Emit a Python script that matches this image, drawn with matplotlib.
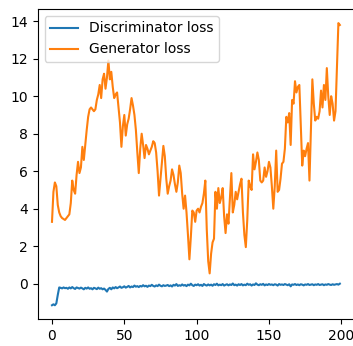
import matplotlib
matplotlib.use('Agg')
import matplotlib.pyplot as plt

# losses per epoch
disc_loss = [
    -1.15, -1.1, -1.15, -1.05, -0.6, -0.2, -0.22, -0.25, -0.2, -0.24,
    -0.22, -0.27, -0.2, -0.25, -0.18, -0.24, -0.28, -0.2, -0.23, -0.26,
    -0.21, -0.25, -0.3, -0.22, -0.26, -0.2, -0.27, -0.24, -0.3, -0.22,
    -0.25, -0.29, -0.21, -0.27, -0.24, -0.3, -0.26, -0.33, -0.42, -0.28,
    -0.22, -0.3, -0.2, -0.25, -0.18, -0.24, -0.2, -0.15, -0.22, -0.19,
    -0.14, -0.21, -0.17, -0.12, -0.2, -0.15, -0.18, -0.1, -0.16, -0.13,
    -0.18, -0.12, -0.15, -0.08, -0.14, -0.11, -0.17, -0.1, -0.13, -0.06,
    -0.12, -0.15, -0.09, -0.13, -0.05, -0.11, -0.14, -0.08, -0.12, -0.1,
    -0.07, -0.13, -0.09, -0.15, -0.06, -0.1, -0.02, -0.12, -0.08, -0.11,
    -0.04, -0.1, -0.07, -0.13, -0.05, -0.09, 0.0, -0.08, -0.12, -0.05,
    -0.08, -0.03, -0.1, -0.06, -0.12, -0.02, -0.07, -0.1, -0.04, -0.09,
    -0.05, -0.11, -0.03, -0.07, 0.0, -0.09, -0.05, -0.08, -0.02, -0.1,
    -0.06, -0.03, -0.09, -0.04, -0.07, 0.01, -0.08, -0.05, -0.1, -0.03,
    -0.07, -0.02, -0.09, -0.05, -0.08, 0.0, -0.06, -0.03, -0.1, -0.04,
    -0.07, 0.02, -0.05, -0.08, -0.03, -0.06, -0.01, -0.09, -0.04, -0.07,
    -0.02, -0.06, -0.04, -0.08, -0.03, -0.05, -0.1, -0.02, -0.06, -0.04,
    -0.07, -0.02, -0.05, -0.08, -0.03, -0.14, -0.04, -0.06, -0.02, -0.07,
    -0.04, -0.08, -0.03, -0.05, -0.09, -0.04, -0.06, -0.02, -0.07, -0.05,
    -0.03, -0.08, -0.04, -0.06, -0.02, -0.07, -0.05, -0.03, -0.08, -0.04,
    -0.06, -0.02, -0.05, -0.07, -0.03, -0.06, -0.04, -0.02, -0.05, 0.0,
]

gen_loss = [
    3.3, 4.9, 5.4, 5.2, 4.2, 3.8, 3.6, 3.5, 3.45, 3.4,
    3.5, 3.6, 3.7, 4.3, 5.5, 5.0, 4.8, 5.8, 6.5, 5.9,
    6.2, 7.3, 6.6, 7.4, 8.2, 8.9, 9.3, 9.4, 9.3, 9.2,
    9.3, 9.8, 10.1, 10.6, 9.9, 10.9, 11.2, 10.4, 11.0, 11.9,
    10.9, 11.3, 10.5, 9.9, 10.1, 10.2, 9.4, 8.6, 7.3, 8.4,
    9.0, 7.9, 8.5, 8.8, 9.3, 9.9, 9.5, 9.0, 8.2, 7.0,
    5.9, 7.2, 8.0, 7.4, 6.7, 7.4, 7.2, 6.9, 7.1, 7.3,
    7.6, 7.5, 7.0, 6.0, 4.7, 5.6, 6.5, 7.35, 6.8, 5.6,
    4.8, 5.2, 5.5, 6.1, 5.8, 5.3, 4.9, 5.4, 6.3, 5.9,
    4.8, 4.0, 4.7, 3.8, 2.6, 1.3, 2.5, 3.9, 3.8, 3.3,
    3.9, 4.0, 3.8, 4.1, 4.3, 4.8, 5.5, 2.9, 1.2, 0.55,
    1.6, 2.2, 2.4, 4.9, 4.0, 5.1, 4.3, 4.6, 5.1, 3.6,
    2.7, 3.7, 3.2, 4.6, 5.9, 3.8, 4.2, 4.9, 4.5, 4.9,
    5.3, 5.6, 3.8, 2.6, 1.95, 3.4, 5.5, 5.2, 5.0, 6.9,
    6.1, 6.5, 7.0, 6.6, 5.5, 5.4, 5.5, 6.2, 5.7, 6.0,
    6.5, 6.2, 5.2, 4.0, 5.2, 7.1, 4.9, 5.0, 5.6, 6.4,
    6.5, 7.2, 8.9, 8.6, 9.1, 7.4, 9.8, 9.6, 10.8, 10.2,
    10.5, 10.6, 8.5, 6.3, 7.1, 6.8, 7.2, 7.5, 5.5, 8.2,
    10.9, 9.6, 8.7, 8.9, 8.8, 9.2, 10.3, 9.4, 10.6, 9.8,
    11.5, 10.0, 9.0, 10.0, 9.6, 8.7, 9.2, 11.5, 13.9, 13.8,
]

fig = plt.figure(figsize=(3.53, 3.46), dpi=100)
ax = fig.add_axes([0.1065, 0.077, 0.897, 0.897])
ax.plot(disc_loss, label='Discriminator loss')
ax.plot(gen_loss, label='Generator loss')
ax.legend(loc='upper left')
fig.savefig('out.png', dpi=100)
